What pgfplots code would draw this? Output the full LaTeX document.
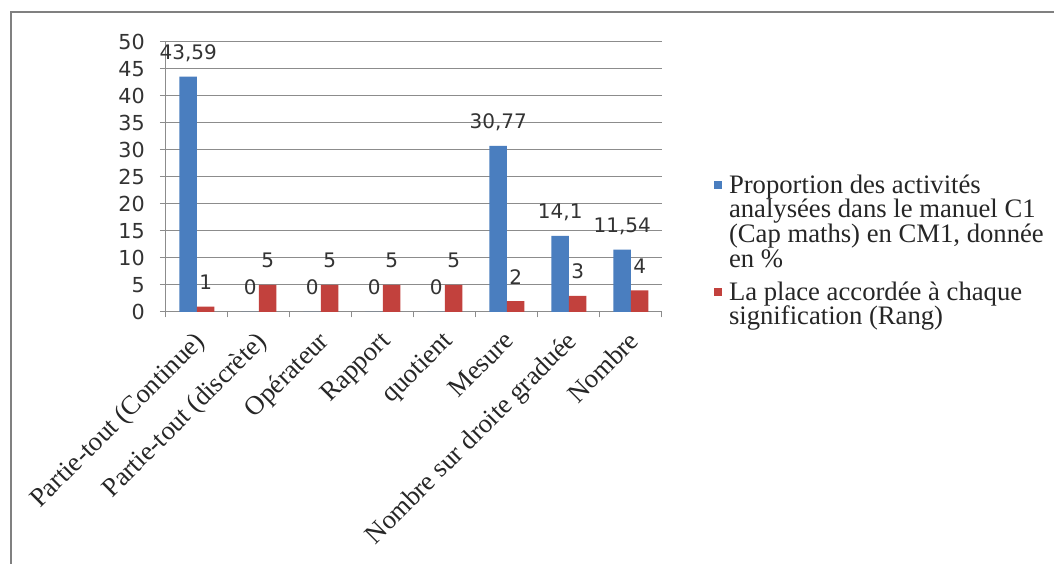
\documentclass[border=0pt]{standalone}
\usepackage{pgfplots}
\pgfplotsset{compat=1.18}
\usepackage{fontspec}
\setmainfont{Liberation Serif}
\newfontfamily\dejavu{DejaVu Sans}
\definecolor{exblue}{HTML}{4A7EBF}
\definecolor{exred}{HTML}{C2413D}
\begin{document}
\begin{tikzpicture}
\path[use as bounding box] (0pt,0pt) rectangle (790.5pt,423pt);
\fill[white] (0pt,0pt) rectangle (790.5pt,423pt);
\draw[black!50, line width=1.5pt] (8.25pt,0pt) -- (8.25pt,414pt) -- (790.5pt,414pt);
\begin{axis}[
  at={(124.5pt,189pt)}, anchor=south west,
  scale only axis, width=372pt, height=202.5pt,
  ybar=0pt, bar width=13.125pt,
  xmin=-0.5, xmax=7.5, ymin=0, ymax=50,
  ytick={0,5,...,50},
  xtick={0,...,7},
  xticklabels={Partie-tout (Continue), Partie-tout (discrète), Opérateur, Rapport, quotient, Mesure, Nombre sur droite graduée, Nombre},
  minor xtick={-0.5,0.5,...,7.5},
  axis x line*=bottom, axis y line*=left,
  axis line style={-, black!45, line width=0.75pt},
  tick align=outside,
  major tick length=4.5pt, minor tick length=4pt,
  tick style={black!45, line width=0.75pt},
  major x tick style={draw=none},
  ymajorgrids, grid style={black!45, line width=0.75pt},
  /pgf/number format/.cd, use comma, assume math mode=true, /pgfplots/.cd,
  yticklabel style={font=\dejavu\fontsize{15.5}{17}\selectfont, text=black!80, inner sep=0pt, xshift=-11.25pt},
  xticklabel style={font=\fontsize{20}{22}\selectfont, text=black!85, shift={(-3pt,-8.5pt)}, rotate=45, anchor=north east, inner sep=0pt},
  nodes near coords,
  every node near coord/.append style={font=\dejavu\fontsize{15}{17}\selectfont, text=black!80, anchor=base, inner sep=0pt, yshift=12.75pt},
  legend style={at={(1.105,0.52)}, anchor=north west, draw=none, fill=none, inner sep=0pt,
    font=\fontsize{20}{18.6}\selectfont, text=black!85, cells={anchor=west, align=left}, row sep=5pt, column sep=3pt},
]
\addplot[fill=exblue, draw=none,
  legend image code/.code={\path[fill=none,draw=none] (0pt,-34pt) rectangle (6pt,34pt); \fill[exblue] (0pt,24.6pt) rectangle (6pt,30.6pt);}]
  coordinates {(0,43.59) (1,0) (2,0) (3,0) (4,0) (5,30.77) (6,14.1) (7,11.54)};
\addplot[fill=exred, draw=none,
  legend image code/.code={\path[fill=none,draw=none] (0pt,-15pt) rectangle (6pt,15pt); \fill[exred] (0pt,6pt) rectangle (6pt,12pt);}]
  coordinates {(0,1) (1,5) (2,5) (3,5) (4,5) (5,2) (6,3) (7,4)};
\addlegendentry{Proportion des activités\\analysées dans le manuel C1\\(Cap maths) en CM1, donnée\\en \%}
\addlegendentry{La place accordée à chaque\\signification (Rang)}
\end{axis}
\end{tikzpicture}
\end{document}
